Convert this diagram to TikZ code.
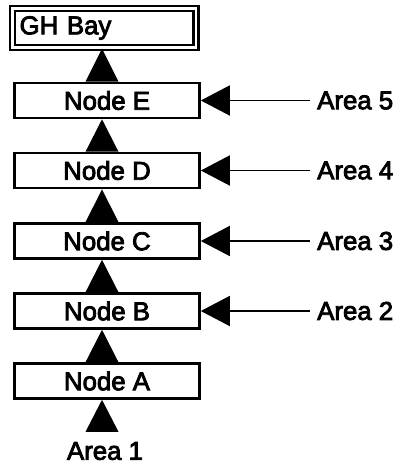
\documentclass[tikz,border=0pt]{standalone}
\usepackage{fontspec}
\newfontfamily\diafont[FakeBold=3.2]{Liberation Sans}
\usetikzlibrary{arrows.meta,calc}
\begin{document}
\begin{tikzpicture}[x=1pt,y=-1pt,
  txt/.style={font=\diafont\fontsize{25.8}{30}\selectfont},
  box/.style={txt,draw,line width=2.6pt,minimum width=185pt,minimum height=35pt,inner sep=0pt},
  bay/.style={txt,draw,line width=2.2pt,double,double distance=2.8pt,minimum height=39pt,
    text width=169pt,align=left,inner xsep=7.3pt,inner ysep=0pt},
  lbl/.style={txt,inner sep=0pt},
  feed/.style={line width=1.5pt,shorten <=7pt,-{Triangle[length=29pt,width=30pt]}},
  uptri/.style={fill=black}]
\useasboundingbox (0,0) rectangle (398,465);

\node[bay] (gh) at (104.1,28) {GH Bay};
\node[box] (E) at (107,100.5) {Node E};
\node[box] (D) at (107,170.5) {Node D};
\node[box] (C) at (107,241) {Node C};
\node[box] (B) at (107,311) {Node B};
\node[box] (A) at (107,381) {Node A};

\node[lbl,anchor=west] (a5) at (317,100.5) {Area 5};
\node[lbl,anchor=west] (a4) at (317,170.5) {Area 4};
\node[lbl,anchor=west] (a3) at (317,241) {Area 3};
\node[lbl,anchor=west] (a2) at (317,311) {Area 2};
\node[lbl] (a1) at (105,451) {Area 1};

% vertical triangles
\fill[uptri] ([xshift=-2.1pt]gh.south) -- ([xshift=-21.5pt]E.north) -- ([xshift=11.5pt]E.north) -- cycle;
\fill[uptri] ([xshift=-5pt]E.south) -- ([xshift=-21.5pt]D.north) -- ([xshift=11.5pt]D.north) -- cycle;
\fill[uptri] ([xshift=-5pt]D.south) -- ([xshift=-21.5pt]C.north) -- ([xshift=11.5pt]C.north) -- cycle;
\fill[uptri] ([xshift=-5pt]C.south) -- ([xshift=-21.5pt]B.north) -- ([xshift=11.5pt]B.north) -- cycle;
\fill[uptri] ([xshift=-5pt]B.south) -- ([xshift=-21.5pt]A.north) -- ([xshift=11.5pt]A.north) -- cycle;
\fill[uptri] ([xshift=-5pt]A.south) -- ([xshift=-19.5pt,yshift=10pt]a1.north) -- ([xshift=13.5pt,yshift=10pt]a1.north) -- cycle;

% side feeds
\draw[feed] (a5.west) -- (E.east);
\draw[feed] (a4.west) -- (D.east);
\draw[feed] (a3.west) -- (C.east);
\draw[feed] (a2.west) -- (B.east);
\end{tikzpicture}
\end{document}
